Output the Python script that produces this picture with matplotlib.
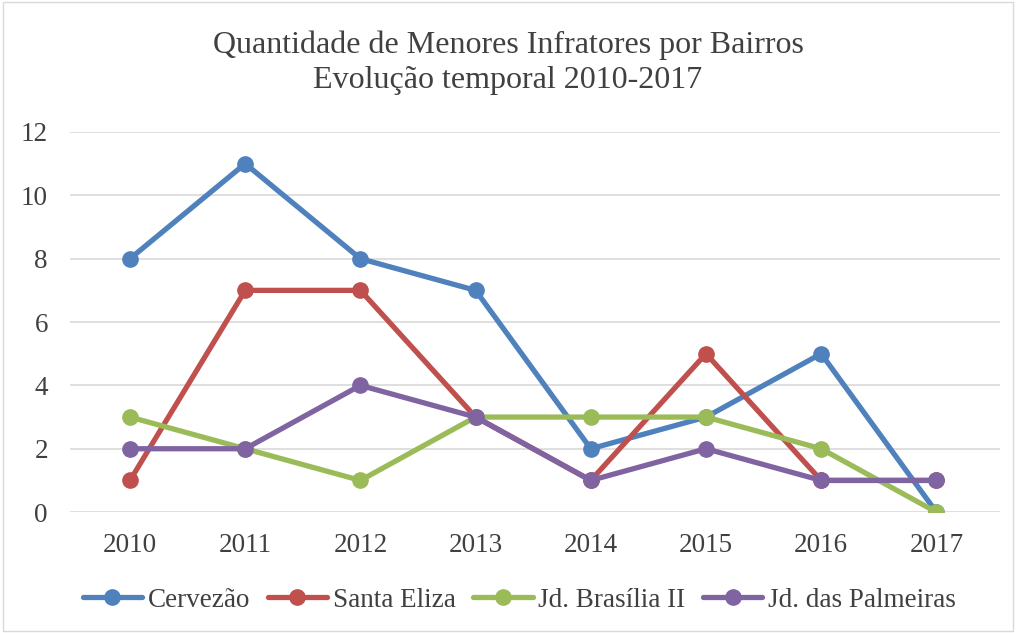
import matplotlib.pyplot as plt
from matplotlib.patches import Rectangle

anos = ['2010', '2011', '2012', '2013', '2014', '2015', '2016', '2017']
cervezao = [8, 11, 8, 7, 2, 3, 5, 0]
santa_eliza = [1, 7, 7, 3, 1, 5, 1, 1]
jd_brasilia = [3, 2, 1, 3, 3, 3, 2, 0]
jd_palmeiras = [2, 2, 4, 3, 1, 2, 1, 1]

nomes = ['Cervezão', 'Santa Eliza', 'Jd. Brasília II', 'Jd. das Palmeiras']
cores = ['#4F81BD', '#C0504D', '#9BBB59', '#8064A2']

plt.rcParams['font.family'] = ['Liberation Serif', 'DejaVu Serif']

fig = plt.figure(figsize=(10.16, 6.33), dpi=100)
ax = fig.add_axes([0.069, 0.191, 0.915, 0.6005])

x = list(range(len(anos)))
for serie, nome, cor in zip([cervezao, santa_eliza, jd_brasilia, jd_palmeiras], nomes, cores):
    ax.plot(x, serie, color=cor, lw=3.8, marker='o', markersize=11, label=nome,
            solid_capstyle='round')

ax.set_xlim(-0.52, 7.55)
ax.set_ylim(0, 12)
ax.set_yticks(range(0, 13, 2))
ax.set_xticks(x)
ax.set_xticklabels(anos)
ax.grid(axis='y', color='#d9d9d9', lw=1.2)
ax.set_axisbelow(True)
for s in ax.spines.values():
    s.set_visible(False)
ax.tick_params(length=0, labelsize=19.5, labelcolor='#404040')
ax.tick_params(axis='x', pad=15)
ax.tick_params(axis='y', pad=16)

fig.text(0.5, 0.928, 'Quantidade de Menores Infratores por Bairros', ha='center', va='center',
         fontsize=23, color='#404040')
fig.text(0.5, 0.873, 'Evolução temporal 2010-2017', ha='center', va='center',
         fontsize=23, color='#404040')

fig.legend(loc='center', bbox_to_anchor=(0.511, 0.052), ncol=4, frameon=False,
           fontsize=19.5, handlelength=2.2, columnspacing=0.65, handletextpad=0.2,
           labelcolor='#404040')

fig.patches.append(Rectangle((0.003, 0.003), 0.994, 0.994, transform=fig.transFigure,
                             fill=False, edgecolor='#d9d9d9', lw=1))

fig.savefig('out.png', dpi=100)
